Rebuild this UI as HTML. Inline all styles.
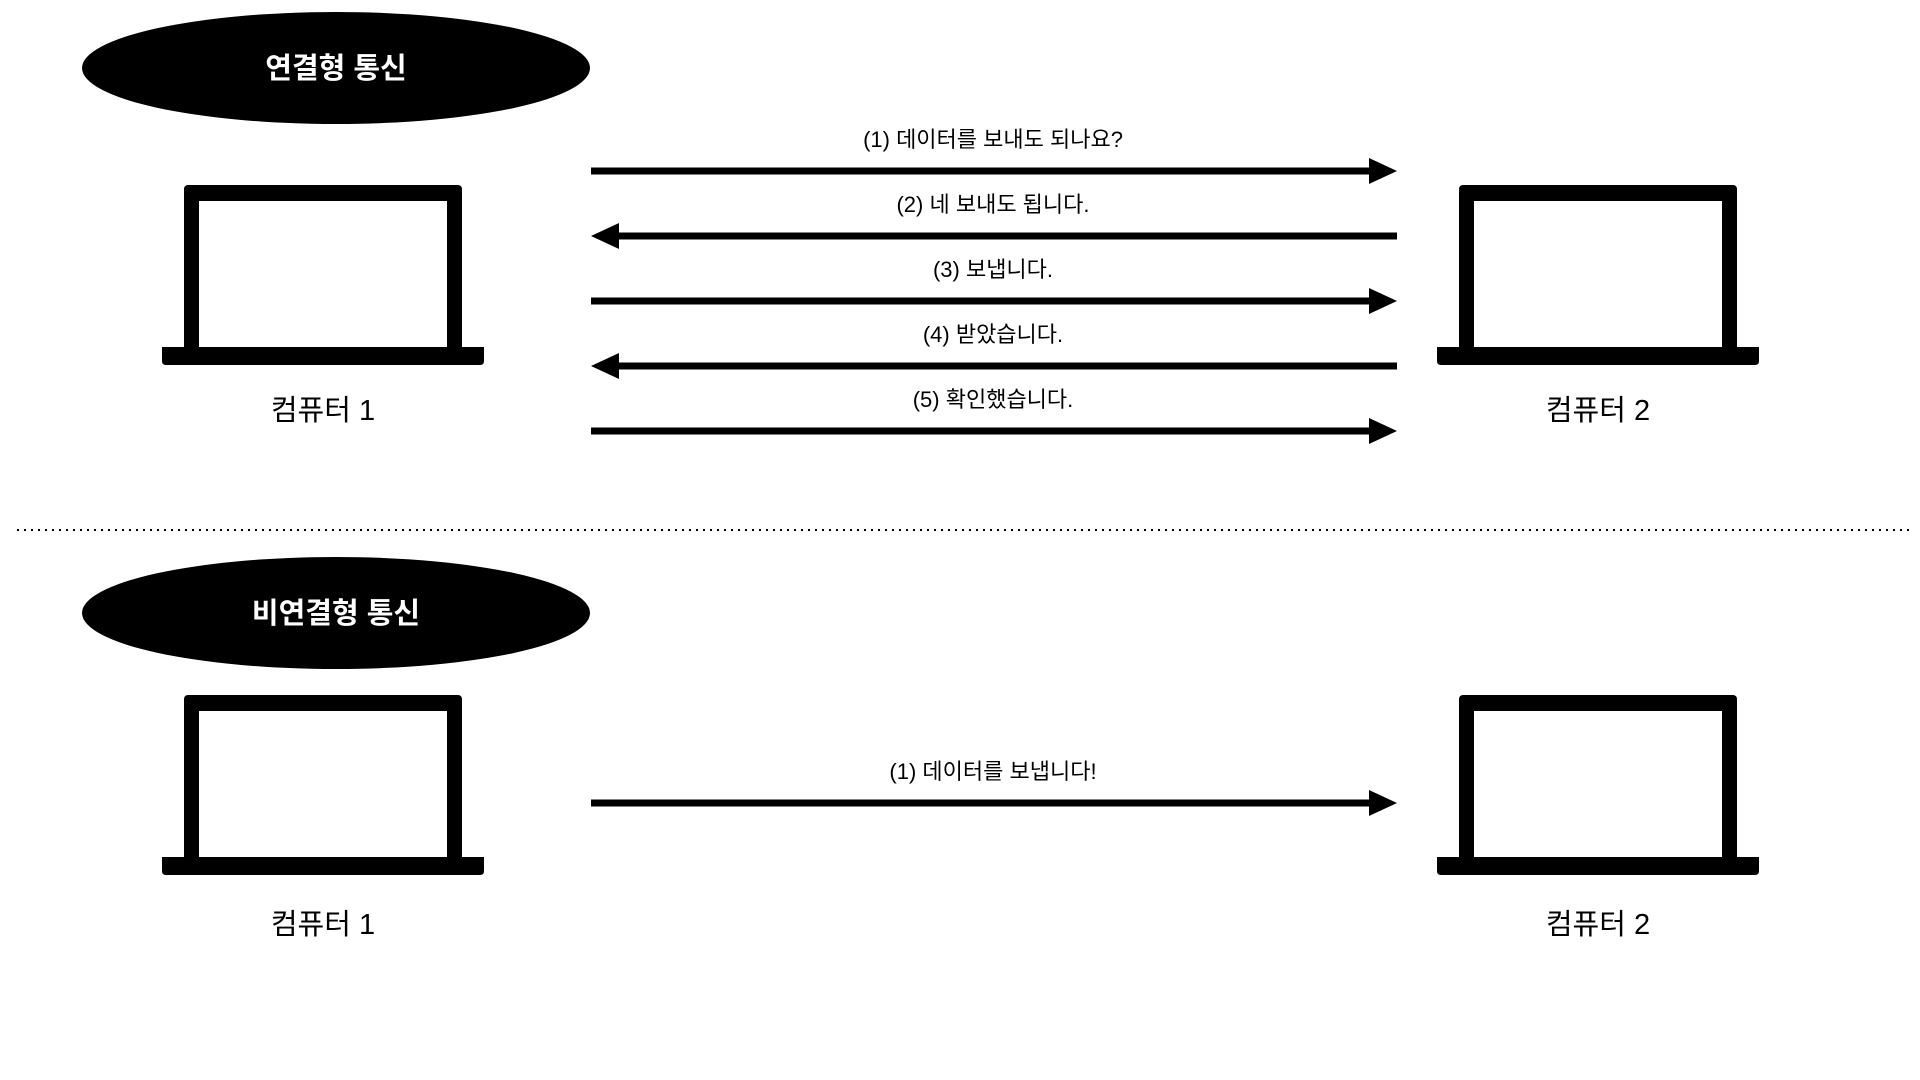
<!DOCTYPE html>
<html><head><meta charset="utf-8"><style>
html,body{margin:0;padding:0;background:#fff;width:1920px;height:1080px;overflow:hidden}
text{font-family:"Liberation Sans","Noto Sans CJK KR",sans-serif}
</style></head><body>
<svg id="c" width="1920" height="1080" viewBox="0 0 1920 1080" xmlns="http://www.w3.org/2000/svg"></svg>
<script>
const sectionTitles = ["연결형 통신", "비연결형 통신"];
const msgTop = ["(1) 데이터를 보내도 되나요?", "(2) 네 보내도 됩니다.", "(3) 보냅니다.", "(4) 받았습니다.", "(5) 확인했습니다."];
const dirTop = [1, -1, 1, -1, 1];
const msgBottom = ["(1) 데이터를 보냅니다!"];
const dirBottom = [1];
const computers = ["컴퓨터 1", "컴퓨터 2"];

const svg = document.getElementById('c');
const NS = 'http://www.w3.org/2000/svg';
function mk(tag, attrs, parent) {
  const e = document.createElementNS(NS, tag);
  for (const k in attrs) e.setAttribute(k, attrs[k]);
  (parent || svg).appendChild(e);
  return e;
}
function laptop(x, oy, label, name, labelDy) {
  const g = mk('g', {});
  
  
  mk('rect', {x: x + 22, y: 185 + oy, width: 278, height: 170, rx: 4, fill: '#000'}, g);
  mk('rect', {x: x + 37, y: 201 + oy, width: 248, height: 147, fill: '#fff'}, g);
  mk('path', {d: `M${x} ${347 + oy} H${x + 322} V${361 + oy} Q${x + 322} ${365 + oy} ${x + 318} ${365 + oy} H${x + 4} Q${x} ${365 + oy} ${x} ${361 + oy} Z`, fill: '#000'}, g);
  const t = mk('text', {x: x + 161, y: 420 + oy + labelDy, 'text-anchor': 'middle', 'font-size': 29, fill: '#000'}, g);
  t.textContent = label;
  
  
}
function arrow(y, dir, label) {
  const x0 = 591, x1 = 1397;
  const g = mk('g', {});
  
  
  if (dir > 0) {
    mk('rect', {x: x0, y: y - 3.5, width: x1 - x0 - 25, height: 7, fill: '#000'}, g);
    mk('path', {d: `M${x1} ${y} L${x1 - 28} ${y - 13} L${x1 - 28} ${y + 13} Z`, fill: '#000'}, g);
  } else {
    mk('rect', {x: x0 + 25, y: y - 3.5, width: x1 - x0 - 25, height: 7, fill: '#000'}, g);
    mk('path', {d: `M${x0} ${y} L${x0 + 28} ${y - 13} L${x0 + 28} ${y + 13} Z`, fill: '#000'}, g);
  }
  const t = mk('text', {x: 993, y: y - 24, 'text-anchor': 'middle', 'font-size': 22, fill: '#000'}, g);
  t.textContent = label;
  
  
}
const titleCy = [68, 613];
sectionTitles.forEach((title, i) => {
  const cy = titleCy[i];
  const e = mk('ellipse', {cx: 336, cy: cy, rx: 254, ry: 56, fill: '#000'});
  
  
  const t = mk('text', {x: 336, y: cy + 10, 'text-anchor': 'middle', 'font-size': 29, 'font-weight': 'bold', fill: '#fff'});
  t.textContent = title;
  
  
});
laptop(162, 0, computers[0], 'computer-1-icon', 0);
laptop(1437, 0, computers[1], 'computer-2-icon', 0);
laptop(162, 510, computers[0], 'computer-1-icon', 4);
laptop(1437, 510, computers[1], 'computer-2-icon', 4);
const topY = [171, 236, 301, 366, 431];
msgTop.forEach((m, i) => arrow(topY[i], dirTop[i], m));
msgBottom.forEach((m, i) => arrow(803, dirBottom[i], m));
const d = mk('line', {x1: 17, y1: 530, x2: 1910, y2: 530, stroke: '#000', 'stroke-width': 2, 'stroke-dasharray': '2 5'});


</script>
</body></html>
